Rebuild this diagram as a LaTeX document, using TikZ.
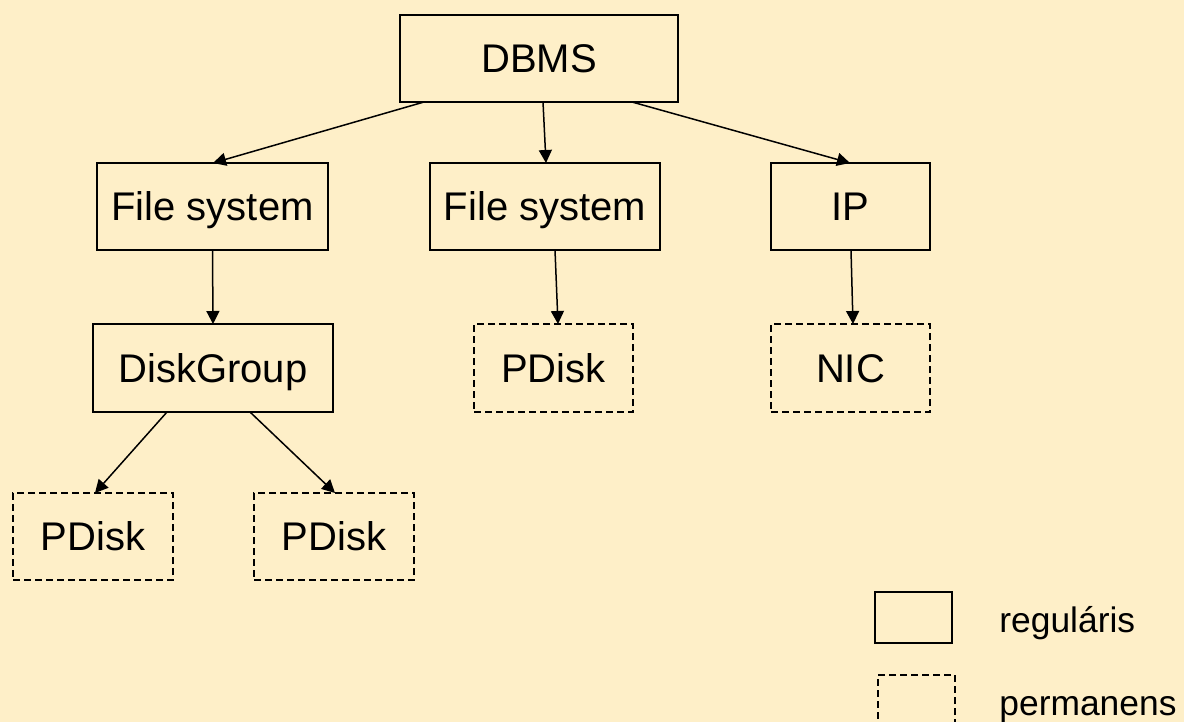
\documentclass[tikz,border=0pt]{standalone}
\usepackage{fontspec}
\setmainfont{Liberation Sans}
\usetikzlibrary{arrows.meta,calc}
\definecolor{bg}{RGB}{254,239,200}
\begin{document}
\begin{tikzpicture}[x=0.5pt,y=-0.5pt,
  box/.style={draw=black,line width=1pt,inner sep=0pt,outer sep=0pt,
    font=\fontsize{20}{24}\selectfont,text height=14.3pt,text depth=0pt},
  permbox/.style={box,dash pattern=on 3.5pt off 2pt},
  link/.style={line width=0.75pt,-{Triangle[length=6.5pt,width=6.5pt]}},
  legendtext/.style={font=\fontsize{17.7}{21}\selectfont,anchor=base west,inner sep=0pt}]
\fill[bg] (0,0) rectangle (1184,722);
\useasboundingbox (0,0) rectangle (1184,722);

% hierarchy
\node[box,minimum width=139pt,minimum height=43.5pt] (dbms) at (539,58.5) {DBMS};
\node[box,minimum width=115.5pt,minimum height=43.5pt] (fs1) at (212.5,206.5) {File system};
\node[box,minimum width=115pt,minimum height=43.5pt] (fs2) at (545,206.5) {File system};
\node[box,minimum width=79.5pt,minimum height=43.5pt] (ip) at (850.5,206.5) {IP};
\node[box,minimum width=120pt,minimum height=44pt] (dg) at (213,368) {DiskGroup};
\node[permbox,minimum width=79.5pt,minimum height=44pt] (pd2) at (553.5,368) {PDisk};
\node[permbox,minimum width=79.5pt,minimum height=44pt] (nic) at (850.5,368) {NIC};
\node[permbox,minimum width=80pt,minimum height=43.5pt] (pda) at (93,536.5) {PDisk};
\node[permbox,minimum width=80pt,minimum height=43.5pt] (pdb) at (334,536.5) {PDisk};

% connectors
\draw[link] ([xshift=-57.5pt]dbms.south) -- ([xshift=0.25pt]fs1.north);
\draw[link] ([xshift=2pt]dbms.south) -- ([xshift=0.5pt]fs2.north);
\draw[link] ([xshift=46.5pt]dbms.south) -- ([xshift=-0.25pt]ip.north);
\draw[link] (fs1.south) -- (dg.north);
\draw[link] ([xshift=5pt]fs2.south) -- ([xshift=2.25pt]pd2.north);
\draw[link] ([xshift=0.25pt]ip.south) -- ([xshift=1.25pt]nic.north);
\draw[link] ([xshift=-23pt]dg.south) -- ([xshift=1pt]pda.north);
\draw[link] ([xshift=18.5pt]dg.south) -- ([xshift=0.5pt]pdb.north);

% legend
\node[box,minimum width=38.5pt,minimum height=25.5pt] (lreg) at (913.5,617.5) {};
\node[permbox,minimum width=38.5pt,minimum height=25.5pt] (lperm) at (916.5,700.5) {};
\node[legendtext] (treg) at (999,632) {reguláris};
\node[legendtext] (tperm) at (999,715) {permanens};
\end{tikzpicture}
\end{document}
